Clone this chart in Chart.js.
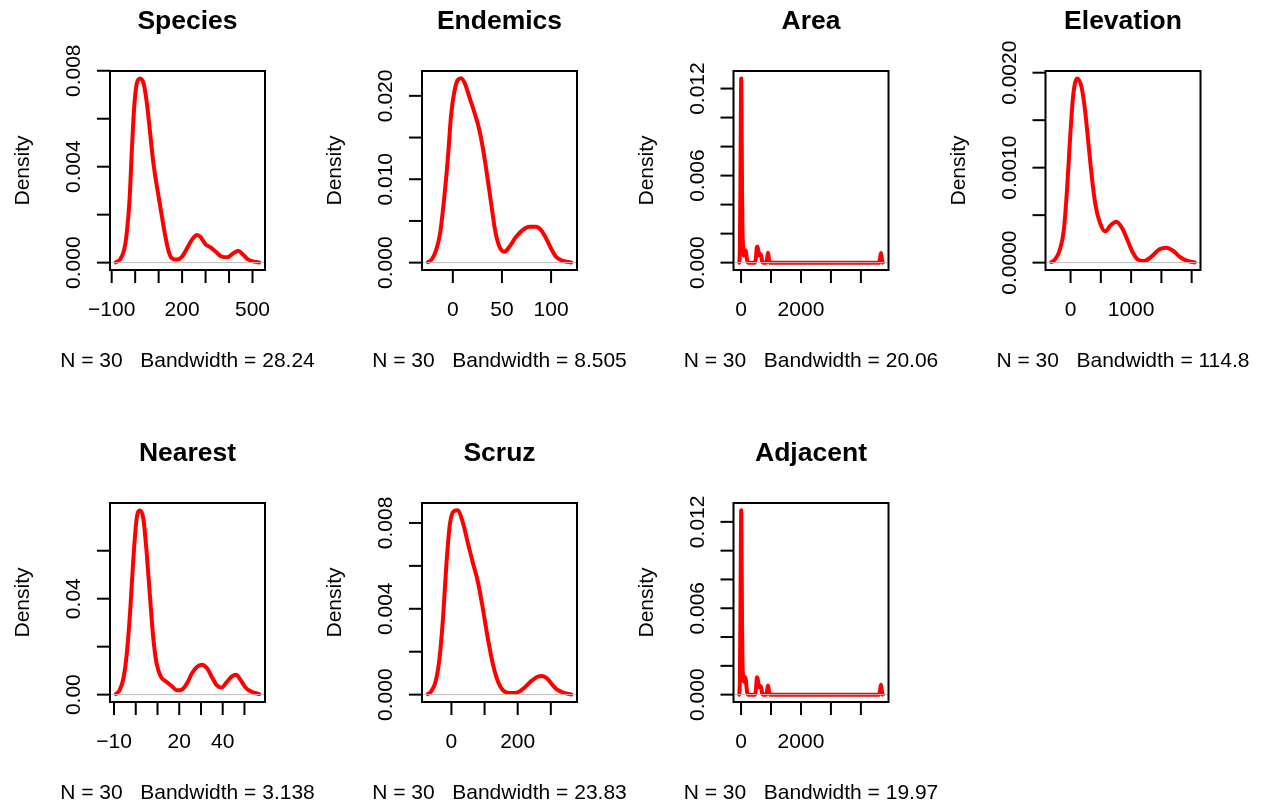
<!DOCTYPE html>
<html>
<head>
<meta charset="utf-8">
<script src="https://cdn.jsdelivr.net/npm/chart.js@4.4.1/dist/chart.umd.min.js"></script>
<style>
  body { margin: 0; background: #fff; }
  #wrap { position: relative; width: 1264px; height: 805px; }
  #wrap canvas { position: absolute; left: 0; top: 0; }
</style>
</head>
<body>
<div id="wrap"></div>
<script>
// density curves (x = value, y = density)
const speciesX = [-83, -64, -47, -36, -24, -14, -4, 7, 21, 36, 50, 64, 76, 86, 100, 114, 129, 143, 157, 179, 200, 221, 243, 264, 279, 300, 321, 343, 364, 393, 414, 439, 457, 479, 507, 529];
const speciesY = [0.00001, 0.00014, 0.00053, 0.00122, 0.00261, 0.0047, 0.0065, 0.00747, 0.00768, 0.00747, 0.00664, 0.00539, 0.00428, 0.00358, 0.00275, 0.00192, 0.00108, 0.00046, 0.00018, 0.00013, 0.00025, 0.0006, 0.00097, 0.00115, 0.00106, 0.00076, 0.00064, 0.00046, 0.00028, 0.00022, 0.00036, 0.0005, 0.00036, 0.00015, 0.00004, 0.00001];

const endemicsX = [-25.5, -22, -17, -13, -9, -5, -1.7, 1.7, 5, 8.5, 12.5, 17, 22, 26.4, 30.5, 34.6, 39, 43, 47.5, 52.5, 57.6, 64.4, 71, 78, 84.7, 89.8, 95, 100, 105, 112, 120.5];
const endemicsY = [0.00005, 0.0003, 0.0015, 0.0035, 0.0075, 0.0126, 0.0178, 0.0206, 0.0219, 0.0221, 0.0214, 0.0198, 0.018, 0.0162, 0.0138, 0.0107, 0.0071, 0.0039, 0.0019, 0.0013, 0.0019, 0.0031, 0.0039, 0.0043, 0.0043, 0.0039, 0.0029, 0.0017, 0.0007, 0.0002, 0.00002];

const areaX = [-60, -40, -20, 0, 8, 20, 35, 50, 65, 90, 120, 150, 175, 200, 230, 470, 500, 530, 555, 590, 620, 650, 680, 710, 740, 840, 870, 900, 930, 960, 4610, 4640, 4669, 4698, 4729];
const areaY = [0, 0.0009, 0.0058, 0.0122, 0.0127, 0.0095, 0.0046, 0.0021, 0.0012, 0.0005, 0.0006, 0.00085, 0.0006, 0.0002, 0, 0, 0.0004, 0.0011, 0.0011, 0.0006, 0.0005, 0.0006, 0.0004, 0.00005, 0, 0, 0.0003, 0.00068, 0.0003, 0, 0, 0.0003, 0.00066, 0.0003, 0];

const elevationX = [-319, -263, -179, -112, -56, -11, 45, 112, 184, 240, 296, 352, 408, 480, 575, 659, 754, 855, 939, 1022, 1106, 1218, 1330, 1469, 1581, 1693, 1804, 1916, 2051];
const elevationY = [0.000005, 0.000028, 0.00013, 0.00034, 0.00079, 0.00128, 0.00177, 0.00194, 0.00184, 0.0016, 0.00125, 0.0009, 0.00062, 0.00043, 0.00033, 0.00039, 0.00043, 0.00036, 0.00024, 0.000115, 0.000035, 0.000017, 0.00006, 0.00014, 0.000157, 0.000125, 0.00006, 0.00002, 0.000002];

const nearestX = [-9.2, -7.5, -5.7, -4.2, -2.6, -1.1, 0.4, 2, 3.5, 5, 6.6, 8.1, 9.6, 11.6, 14.2, 16.5, 18.9, 21.2, 23.5, 25.8, 28.1, 30.4, 32.7, 35, 37.3, 39.6, 41.9, 44.2, 46.2, 48, 50.3, 52.6, 54.9, 56.8];
const nearestY = [0.0002, 0.0018, 0.0067, 0.0164, 0.0344, 0.0567, 0.0733, 0.0768, 0.0733, 0.0594, 0.04, 0.0233, 0.0129, 0.0074, 0.0053, 0.0036, 0.0018, 0.0021, 0.0046, 0.0088, 0.0115, 0.0125, 0.0111, 0.0074, 0.0039, 0.003, 0.0053, 0.0076, 0.0083, 0.0064, 0.0032, 0.0015, 0.0007, 0.0002];

const scruzX = [-71.5, -63, -48, -36, -25.5, -15.3, -5, 5, 18, 34, 49, 64, 80, 95, 110, 126, 141, 156, 177, 197, 217, 238, 258, 273, 289, 304, 319, 340, 361.7];
const scruzY = [0.00002, 0.00012, 0.00059, 0.00168, 0.00354, 0.00603, 0.00789, 0.00851, 0.00859, 0.00805, 0.00711, 0.00618, 0.00525, 0.004, 0.00261, 0.00137, 0.00059, 0.0002, 0.00008, 0.00009, 0.00028, 0.00059, 0.00082, 0.00087, 0.00075, 0.00047, 0.00023, 0.00008, 0.000005];

const adjacentX = [-60, -40, -20, 0, 8, 20, 35, 50, 70, 95, 120, 145, 170, 200, 230, 470, 500, 530, 555, 590, 620, 650, 680, 710, 740, 840, 870, 900, 930, 960, 4610, 4640, 4669, 4698, 4729];
const adjacentY = [0, 0.0009, 0.0058, 0.0123, 0.0128, 0.0096, 0.0047, 0.0022, 0.0012, 0.0009, 0.001, 0.0012, 0.0008, 0.0002, 0, 0, 0.0004, 0.0012, 0.0011, 0.0006, 0.0005, 0.0006, 0.0004, 0.00005, 0, 0, 0.0003, 0.00064, 0.0003, 0, 0, 0.0003, 0.00068, 0.0003, 0];

// titles and sub labels
const titles = ['Species', 'Endemics', 'Area', 'Elevation', 'Nearest', 'Scruz', 'Adjacent'];
const bandwidths = ['28.24', '8.505', '20.06', '114.8', '3.138', '23.83', '19.97'];

// axis ranges
const xRanges = [[-107.2, 553.2], [-31.4, 126.4], [-251.8, 4921], [-414, 2146], [-11.85, 59.45], [-88.8, 379], [-251.5, 4921]];
const yRanges = [[-0.000307, 0.00799], [-0.000884, 0.02298], [-0.000508, 0.01321], [-0.0000776, 0.002018], [-0.00307, 0.0799], [-0.000344, 0.00893], [-0.000512, 0.01331]];

// tick positions and labels ('' = tick without a label, like R drops them)
const xTicks = [
  [-100, 0, 100, 200, 300, 400, 500],
  [0, 50, 100],
  [0, 1000, 2000, 3000, 4000],
  [0, 500, 1000, 1500, 2000],
  [-10, 0, 10, 20, 30, 40, 50],
  [0, 100, 200, 300],
  [0, 1000, 2000, 3000, 4000]
];
const xTickLabels = [
  ['\u2212100', '', '', '200', '', '', '500'],
  ['0', '50', '100'],
  ['0', '', '2000', '', ''],
  ['0', '', '1000', '', ''],
  ['\u221210', '', '', '20', '', '40', ''],
  ['0', '', '200', ''],
  ['0', '', '2000', '', '']
];
const yTicks = [
  [0, 0.002, 0.004, 0.006, 0.008],
  [0, 0.005, 0.01, 0.015, 0.02],
  [0, 0.002, 0.004, 0.006, 0.008, 0.01, 0.012],
  [0, 0.0005, 0.001, 0.0015, 0.002],
  [0, 0.02, 0.04, 0.06],
  [0, 0.002, 0.004, 0.006, 0.008],
  [0, 0.002, 0.004, 0.006, 0.008, 0.01, 0.012]
];
const yTickLabels = [
  ['0.000', '', '0.004', '', '0.008'],
  ['0.000', '', '0.010', '', '0.020'],
  ['0.000', '', '', '0.006', '', '', '0.012'],
  ['0.0000', '', '0.0010', '', '0.0020'],
  ['0.00', '', '0.04', ''],
  ['0.000', '', '0.004', '', '0.008'],
  ['0.000', '', '', '0.006', '', '', '0.012']
];

const curvesX = [speciesX, endemicsX, areaX, elevationX, nearestX, scruzX, adjacentX];
const curvesY = [speciesY, endemicsY, areaY, elevationY, nearestY, scruzY, adjacentY];

// plot boxes in the page (left, top); each box is 155 x 199
const W = 1264, H = 805, BOX_W = 155, BOX_H = 199;
const boxLeft = [110, 422, 733.5, 1045.5, 110, 422, 733.5];
const boxTop = [71, 71, 71, 71, 503, 503, 503];

const FONT = '"Liberation Sans", Arial, Helvetica, sans-serif';

// draws the R-like frame, axes and texts
const rFrame = {
  id: 'rFrame',
  afterDatasetsDraw(chart, args, opts) {
    const ctx = chart.ctx;
    const a = chart.chartArea;
    const xs = chart.scales.x, ys = chart.scales.y;
    const i = opts.idx;
    ctx.save();

    // zero line
    const y0 = ys.getPixelForValue(0);
    ctx.strokeStyle = '#BEBEBE';
    ctx.lineWidth = 1;
    ctx.beginPath();
    ctx.moveTo(a.left, y0);
    ctx.lineTo(a.right, y0);
    ctx.stroke();

    // box
    ctx.strokeStyle = '#000';
    ctx.lineWidth = 2;
    ctx.strokeRect(a.left, a.top, a.right - a.left, a.bottom - a.top);

    ctx.fillStyle = '#000';
    ctx.font = '21px ' + FONT;
    ctx.textAlign = 'center';
    ctx.textBaseline = 'alphabetic';

    // x axis
    xTicks[i].forEach((v, k) => {
      const px = xs.getPixelForValue(v);
      ctx.beginPath();
      ctx.moveTo(px, a.bottom);
      ctx.lineTo(px, a.bottom + 13);
      ctx.stroke();
      if (xTickLabels[i][k]) ctx.fillText(xTickLabels[i][k], px, a.bottom + 46);
    });

    // y axis
    yTicks[i].forEach((v, k) => {
      const py = ys.getPixelForValue(v);
      ctx.beginPath();
      ctx.moveTo(a.left, py);
      ctx.lineTo(a.left - 13, py);
      ctx.stroke();
      if (yTickLabels[i][k]) {
        ctx.save();
        ctx.translate(a.left - 30, py);
        ctx.rotate(-Math.PI / 2);
        ctx.fillText(yTickLabels[i][k], 0, 0);
        ctx.restore();
      }
    });

    const cx = (a.left + a.right) / 2;
    const cy = (a.top + a.bottom) / 2;

    // y label
    ctx.save();
    ctx.translate(a.left - 81, cy);
    ctx.rotate(-Math.PI / 2);
    ctx.fillText('Density', 0, 0);
    ctx.restore();

    // sub label
    ctx.fillText('N = 30   Bandwidth = ' + bandwidths[i], cx, a.bottom + 97);

    // title
    ctx.font = 'bold 26.5px ' + FONT;
    ctx.fillText(titles[i], cx, a.top - 42);

    ctx.restore();
  }
};

const wrap = document.getElementById('wrap');

titles.forEach((t, i) => {
  const canvas = document.createElement('canvas');
  canvas.width = W;
  canvas.height = H;
  canvas.style.width = W + 'px';
  canvas.style.height = H + 'px';
  wrap.appendChild(canvas);

  const pts = curvesX[i].map((x, k) => ({ x: x, y: curvesY[i][k] }));

  new Chart(canvas, {
    type: 'line',
    data: {
      datasets: [{
        data: pts,
        borderColor: '#FF0000',
        borderWidth: 4,
        borderJoinStyle: 'round',
        borderCapStyle: 'round',
        pointRadius: 0,
        fill: false,
        cubicInterpolationMode: 'monotone'
      }]
    },
    options: {
      responsive: false,
      devicePixelRatio: 1,
      animation: false,
      layout: {
        padding: {
          left: boxLeft[i],
          top: boxTop[i],
          right: W - boxLeft[i] - BOX_W,
          bottom: H - boxTop[i] - BOX_H
        }
      },
      scales: {
        x: { type: 'linear', display: false, min: xRanges[i][0], max: xRanges[i][1] },
        y: { type: 'linear', display: false, min: yRanges[i][0], max: yRanges[i][1] }
      },
      plugins: {
        legend: { display: false },
        tooltip: { enabled: false },
        rFrame: { idx: i }
      }
    },
    plugins: [rFrame]
  });
});
</script>
</body>
</html>
